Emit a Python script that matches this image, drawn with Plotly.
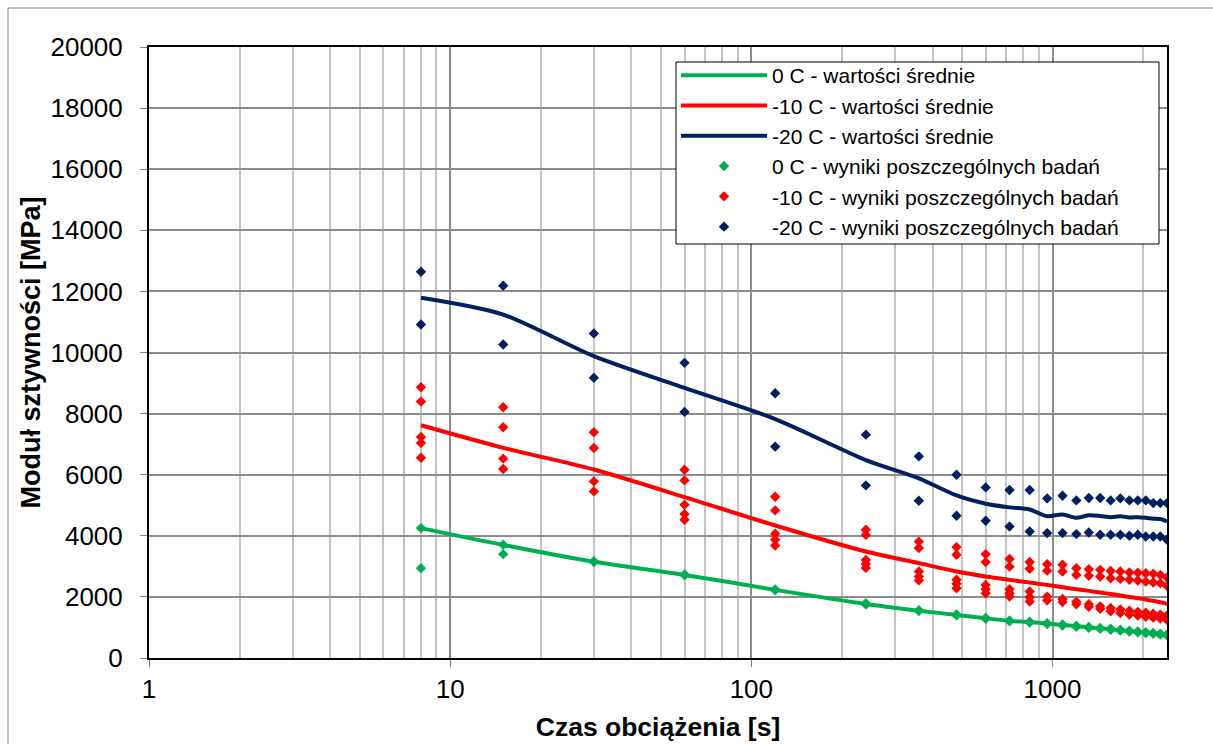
import plotly.graph_objects as go

# ---------------- data ----------------
times = [8, 15, 30, 60, 120, 240, 360, 480, 600, 720, 840, 960, 1080, 1200,
         1320, 1440, 1560, 1680, 1800, 1920, 2040, 2160, 2280, 2400]

mean_0 = [4250, 3700, 3150, 2720, 2230, 1770, 1550, 1410, 1300, 1215, 1175, 1125,
          1080, 1040, 1000, 970, 940, 910, 880, 855, 830, 805, 780, 755]
mean_m10 = [7617, 6880, 6170, 5268, 4338, 3486, 3104, 2831, 2667, 2557, 2470, 2393,
            2317, 2251, 2197, 2142, 2098, 2044, 2000, 1956, 1913, 1869, 1825, 1770]
mean_m20 = [11790, 11240, 9880, 8840, 7820, 6480, 5880, 5320, 5050, 4930, 4860, 4640,
            4700, 4590, 4670, 4650, 4610, 4640, 4600, 4610, 4590, 4560, 4550, 4470]

pts_0 = [[4252, 2940], [3705, 3399], [3170, 3140], [2735, 2705], [2245, 2215],
         [1790, 1750], [1565, 1535], [1425, 1395], [1315, 1285], [1230, 1200],
         [1190, 1160], [1140, 1110], [1095, 1065], [1055, 1025], [1015, 985],
         [985, 955], [955, 925], [925, 895], [895, 865], [870, 840], [845, 815],
         [820, 790], [795, 765], [770, 740]]

pts_m10 = [[8863, 8393, 7236, 7039, 6557], [8208, 7552, 6525, 6186],
           [7388, 6875, 5781, 5454], [6164, 5814, 5016, 4710, 4525],
           [5279, 4831, 4066, 3869, 3683], [4200, 4030, 3210, 3080, 2950],
           [3810, 3600, 2830, 2670, 2540], [3630, 3380, 2560, 2430, 2280],
           [3400, 3140, 2390, 2250, 2120], [3240, 2990, 2250, 2120, 2010],
           [3140, 2920, 2175, 1990, 1850], [3070, 2860, 2010, 1890],
           [3050, 2830, 1930, 1830], [2940, 2720, 1840, 1760],
           [2905, 2690, 1760, 1680], [2885, 2665, 1690, 1610],
           [2850, 2610, 1640, 1530], [2830, 2590, 1590, 1470],
           [2800, 2560, 1550, 1420], [2790, 2535, 1510, 1390],
           [2775, 2500, 1480, 1350], [2755, 2470, 1450, 1320],
           [2720, 2450, 1420, 1290], [2635, 2360, 1390, 1240]]

pts_m20 = [[12645, 10918], [12186, 10262], [10623, 9170], [9661, 8055],
           [8667, 6918], [7311, 5650], [6600, 5148], [6000, 4656],
           [5584, 4492], [5497, 4306], [5497, 4142], [5224, 4088],
           [5311, 4088], [5158, 4055], [5235, 4110], [5235, 4033],
           [5158, 4033], [5224, 4033], [5158, 4000], [5158, 4033],
           [5158, 3978], [5071, 3978], [5071, 3978], [5071, 3869]]

names_mean = ["0 C - wartości średnie", "-10 C - wartości średnie",
              "-20 C - wartości średnie"]
names_pts = ["0 C - wyniki poszczególnych badań",
             "-10 C - wyniki poszczególnych badań",
             "-20 C - wyniki poszczególnych badań"]
colors = ["#00B050", "#FF0000", "#002060"]

x_ticks = [1, 10, 100, 1000]
y_ticks = list(range(0, 20001, 2000))

# ---------------- figure ----------------
FONT = "Liberation Sans, Arial, sans-serif"
fig = go.Figure()

for i, (name, m) in enumerate(zip(names_mean, [mean_0, mean_m10, mean_m20])):
    fig.add_trace(go.Scatter(
        x=times, y=m, mode="lines", name=name, legendgroup=f"g{i}",
        line=dict(color=colors[i], width=4, shape="spline", smoothing=0.8),
    ))


def flatten(pts):
    xs, ys = [], []
    for t, vals in zip(times, pts):
        for v in vals:
            xs.append(t)
            ys.append(v)
    return xs, ys


for i, (name, p) in enumerate(zip(names_pts, [pts_0, pts_m10, pts_m20])):
    xs, ys = flatten(p)
    fig.add_trace(go.Scatter(
        x=xs, y=ys, mode="markers", name=name, legendgroup=f"p{i}",
        marker=dict(symbol="diamond", size=8, color=colors[i]),
    ))

minor_vals = [m * 10 ** d for d in range(0, 4) for m in range(2, 10) if m * 10 ** d < 2400]

fig.update_layout(
    width=1213, height=744,
    margin=dict(l=149, r=46, t=47, b=86),
    paper_bgcolor="white", plot_bgcolor="white",
    font=dict(family=FONT, color="black"),
    showlegend=True,
    legend=dict(
        x=0.5177, y=0.9869, xanchor="left", yanchor="top",
        bgcolor="rgba(0,0,0,0)", borderwidth=0,
        font=dict(family=FONT, size=21, color="black"),
        traceorder="grouped", tracegroupgap=0,
        itemwidth=86,
    ),
    xaxis=dict(
        type="log", range=[0, 3.3802], automargin=False,
        tickmode="array", tickvals=x_ticks, ticktext=[str(v) for v in x_ticks],
        tickfont=dict(family=FONT, size=26, color="black"),
        ticks="outside", ticklen=7, tickcolor="#808080",
        showgrid=True, gridcolor="#8c8c8c", gridwidth=1.5,
        minor=dict(tickmode="array", tickvals=minor_vals, showgrid=True,
                   gridcolor="#c4c4c4", gridwidth=1.5, ticks=""),
        showline=True, linecolor="black", linewidth=2, mirror=True,
        zeroline=False,
        title=dict(text="Czas obciążenia [s]",
                   font=dict(family=FONT, size=26.5, color="black", weight="bold"),
                   standoff=14),
    ),
    yaxis=dict(
        range=[0, 20000], tickmode="array", tickvals=y_ticks, automargin=False,
        tickformat="d",
        tickfont=dict(family=FONT, size=26, color="black"),
        ticks="outside", ticklen=7, tickcolor="#808080",
        ticklabelstandoff=12,
        showgrid=True, gridcolor="#8c8c8c", gridwidth=1.5,
        showline=True, linecolor="black", linewidth=2, mirror=True,
        zeroline=False,
        title=dict(text="Moduł sztywności [MPa]",
                   font=dict(family=FONT, size=27, color="black", weight="bold"),
                   standoff=2),
    ),
)

# legend frame (white box with black border, sized like the reference)
fig.add_shape(type="rect", xref="paper", yref="paper",
              x0=(676 - 149) / 1018, x1=(1159 - 149) / 1018,
              y0=(658 - 244) / 611, y1=(658 - 62) / 611,
              line=dict(color="black", width=1), fillcolor="white",
              layer="above")

# outer chart-area frame (left and top edges visible in the reference)
fig.add_shape(type="rect", xref="paper", yref="paper",
              x0=(8 - 149) / 1018, x1=(1230 - 149) / 1018,
              y0=(658 - 760) / 611, y1=(658 - 8) / 611,
              line=dict(color="#8c8c8c", width=1), fillcolor="rgba(0,0,0,0)",
              layer="below")

fig.write_html("out.html")
